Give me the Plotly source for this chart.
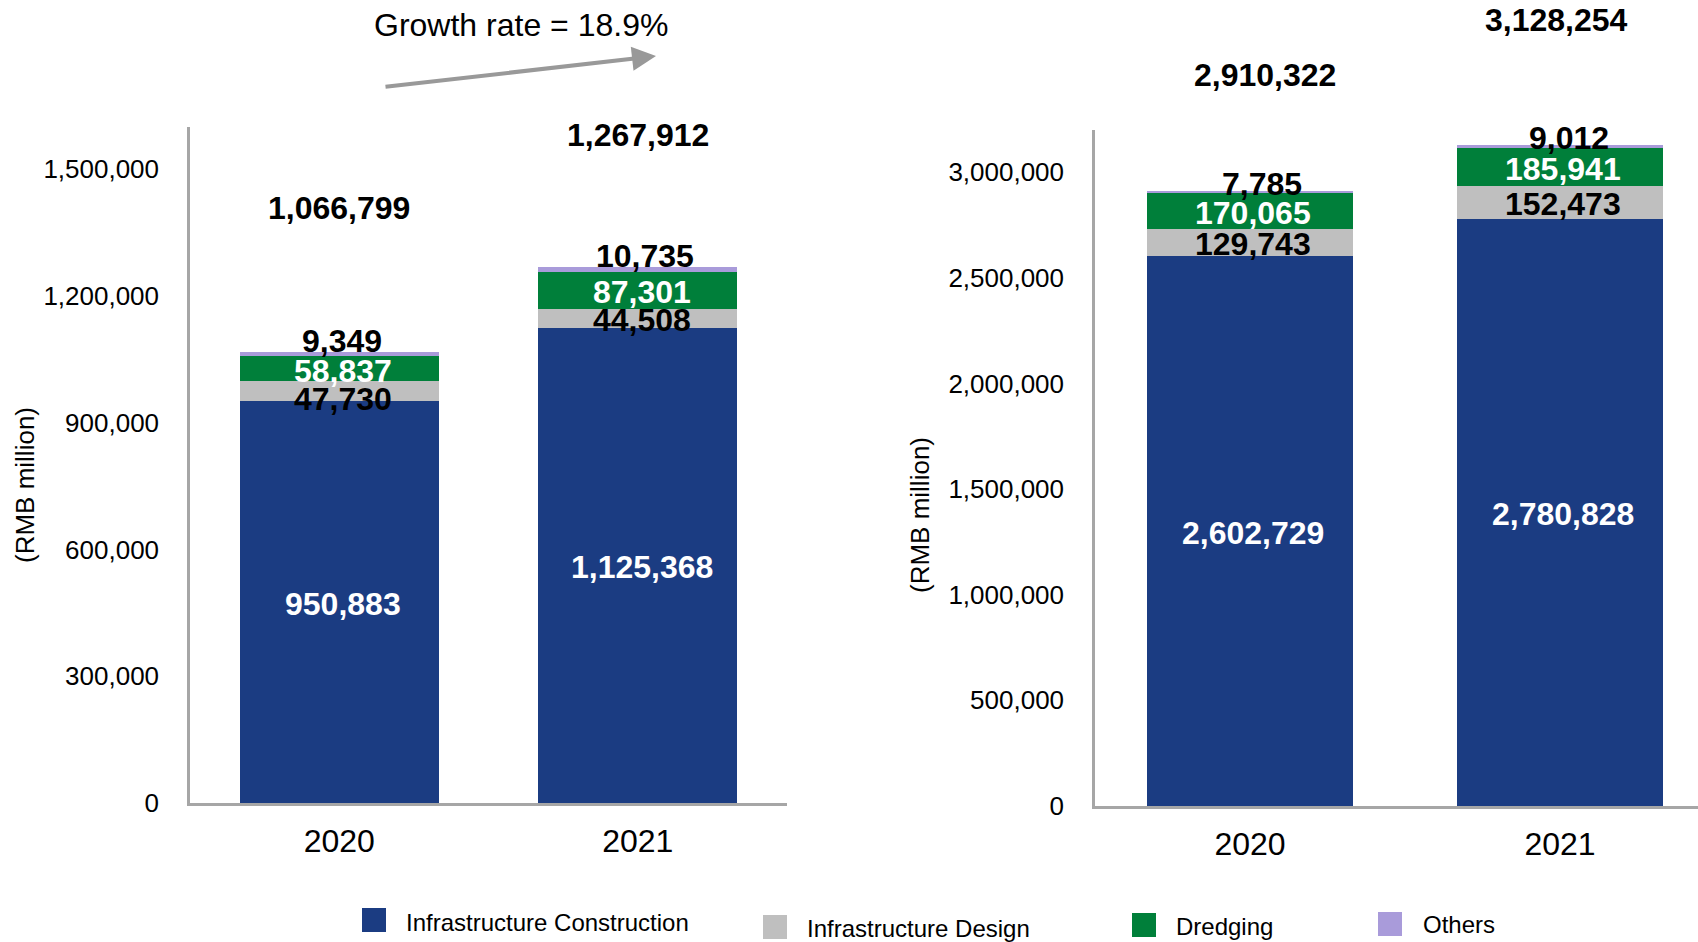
import plotly.graph_objects as go

# Revenue by segment, RMB million
years = ["2020", "2021"]
segments = ["Infrastructure Construction", "Infrastructure Design", "Dredging", "Others"]
segment_colors = ["#1B3C82", "#BFBFBF", "#007F3A", "#A99BDA"]
segment_text_colors = ["white", "black", "white", "black"]

left_construction = [950883, 1125368]
left_design = [47730, 44508]
left_dredging = [58837, 87301]
left_others = [9349, 10735]
left_totals = [1066799, 1267912]

right_construction = [2602729, 2780828]
right_design = [129743, 152473]
right_dredging = [170065, 185941]
right_others = [7785, 9012]
right_totals = [2910322, 3128254]

growth_label = "Growth rate = 18.9%"

left_ticks = [0, 300000, 600000, 900000, 1200000, 1500000]
right_ticks = [0, 500000, 1000000, 1500000, 2000000, 2500000, 3000000]

# label placement tweaks, in pixels
left_layout = dict(total_shift=[145, 133], total_xshift=[0, 0],
                   others_shift=[13, 13], others_xshift=[3, 7],
                   seg_xshift=4, design_yshift=[-6, 0])
right_layout = dict(total_shift=[117, 126], total_xshift=[15, -4],
                    others_shift=[9, 9], others_xshift=[12, 9],
                    seg_xshift=3, design_yshift=[0, 0])

W, H = 1698, 942
FONT = "Liberation Sans, Arial, sans-serif"
AXIS_GRAY = "#A6A6A6"
LABEL_SIZE = 32


def px(p):
    return p / W


def py(p):
    return 1 - p / H


fig = go.Figure()

panels = [
    ("x", "y", [left_construction, left_design, left_dredging, left_others]),
    ("x2", "y2", [right_construction, right_design, right_dredging, right_others]),
]

for xa, ya, series in panels:
    for name, vals, col in zip(segments, series, segment_colors):
        fig.add_trace(go.Bar(
            x=years, y=vals, name=name, xaxis=xa, yaxis=ya,
            marker=dict(color=col, line=dict(width=0)),
            showlegend=False, hoverinfo="x+y+name",
        ))

annotations = []


def fmt(v):
    return f"<b>{v:,}</b>"


def add_labels(xa, ya, series, totals, lay):
    # category axes place annotations by category index
    for i in range(len(years)):
        base = 0
        for k, vals in enumerate(series):
            v = vals[i]
            if k < 3:
                dy = -2 + (lay["design_yshift"][i] if k == 1 else 0)
                annotations.append(dict(
                    x=i, y=base + v / 2, xref=xa, yref=ya, text=fmt(v),
                    showarrow=False, xanchor="center", yanchor="middle",
                    xshift=lay["seg_xshift"], yshift=dy,
                    font=dict(family=FONT, size=LABEL_SIZE, color=segment_text_colors[k]),
                ))
            else:
                annotations.append(dict(
                    x=i, y=base + v, xref=xa, yref=ya, text=fmt(v),
                    showarrow=False, xanchor="center", yanchor="middle",
                    yshift=lay["others_shift"][i] - 2, xshift=lay["others_xshift"][i],
                    font=dict(family=FONT, size=LABEL_SIZE, color="black"),
                ))
            base += v
        annotations.append(dict(
            x=i, y=totals[i], xref=xa, yref=ya, text=fmt(totals[i]),
            showarrow=False, xanchor="center", yanchor="middle",
            yshift=lay["total_shift"][i] - 1, xshift=lay["total_xshift"][i],
            font=dict(family=FONT, size=LABEL_SIZE, color="black"),
        ))


add_labels("x", "y",
           [left_construction, left_design, left_dredging, left_others],
           left_totals, left_layout)
add_labels("x2", "y2",
           [right_construction, right_design, right_dredging, right_others],
           right_totals, right_layout)

# axis titles
for tx, ty in [(25, 485), (920, 515)]:
    annotations.append(dict(
        x=px(tx), y=py(ty), xref="paper", yref="paper", text="(RMB million)",
        textangle=-90, showarrow=False, xanchor="center", yanchor="middle",
        font=dict(family=FONT, size=26, color="black"),
    ))

# growth note and arrow
annotations.append(dict(
    x=px(521), y=py(25), xref="paper", yref="paper", text=growth_label,
    showarrow=False, xanchor="center", yanchor="middle",
    font=dict(family=FONT, size=32, color="black"),
))
annotations.append(dict(
    x=px(656), y=py(56), xref="paper", yref="paper", text="",
    showarrow=True, ax=-272, ay=31, axref="pixel", ayref="pixel",
    arrowhead=2, arrowsize=1.2, arrowwidth=4, arrowcolor="#999999",
))

# legend drawn as swatches plus labels
shapes = []
legend_swatch_x = [362, 763, 1132, 1378]
legend_swatch_y = [908, 915, 913, 912]
legend_text_x = [404, 805, 1174, 1421]
legend_text_y = [922, 928, 926, 924]
for name, col, sx, sy, tx, ty in zip(segments, segment_colors, legend_swatch_x,
                                     legend_swatch_y, legend_text_x, legend_text_y):
    shapes.append(dict(
        type="rect", xref="paper", yref="paper",
        x0=px(sx), x1=px(sx + 24), y0=py(sy + 24), y1=py(sy),
        fillcolor=col, line=dict(width=0),
    ))
    annotations.append(dict(
        x=px(tx), y=py(ty), xref="paper", yref="paper", text=name,
        xanchor="left", yanchor="middle", showarrow=False,
        font=dict(family=FONT, size=24, color="black"),
    ))

axis_common = dict(showgrid=False, zeroline=False, showline=True, automargin=False,
                   linecolor=AXIS_GRAY, linewidth=2.5, fixedrange=True)

fig.update_layout(
    width=W, height=H,
    margin=dict(l=0, r=0, t=0, b=0, pad=0, autoexpand=False),
    paper_bgcolor="white", plot_bgcolor="white",
    barmode="stack", bargap=0.333,
    showlegend=False,
    font=dict(family=FONT, color="black"),
    xaxis=dict(type="category", domain=[px(190), px(787)], anchor="y", range=[-0.5, 1.5],
               ticks="outside", ticklen=8, tickcolor="rgba(0,0,0,0)",
               tickfont=dict(size=32, family=FONT), **axis_common),
    yaxis=dict(domain=[py(803), py(127)], anchor="x", range=[0, 1600000],
               tickvals=left_ticks, tickformat=",d",
               ticks="outside", ticklen=23, tickcolor="rgba(0,0,0,0)",
               tickfont=dict(size=26, family=FONT), **axis_common),
    xaxis2=dict(type="category", domain=[px(1095), 1.0], anchor="y2", range=[-0.5, 1.445],
                ticks="outside", ticklen=8, tickcolor="rgba(0,0,0,0)",
                tickfont=dict(size=32, family=FONT), **axis_common),
    yaxis2=dict(domain=[py(806), py(130)], anchor="x2", range=[0, 3200000],
                tickvals=right_ticks, tickformat=",d",
                ticks="outside", ticklen=23, tickcolor="rgba(0,0,0,0)",
                tickfont=dict(size=26, family=FONT), **axis_common),
    annotations=annotations,
    shapes=shapes,
)

fig.write_html("out.html")
